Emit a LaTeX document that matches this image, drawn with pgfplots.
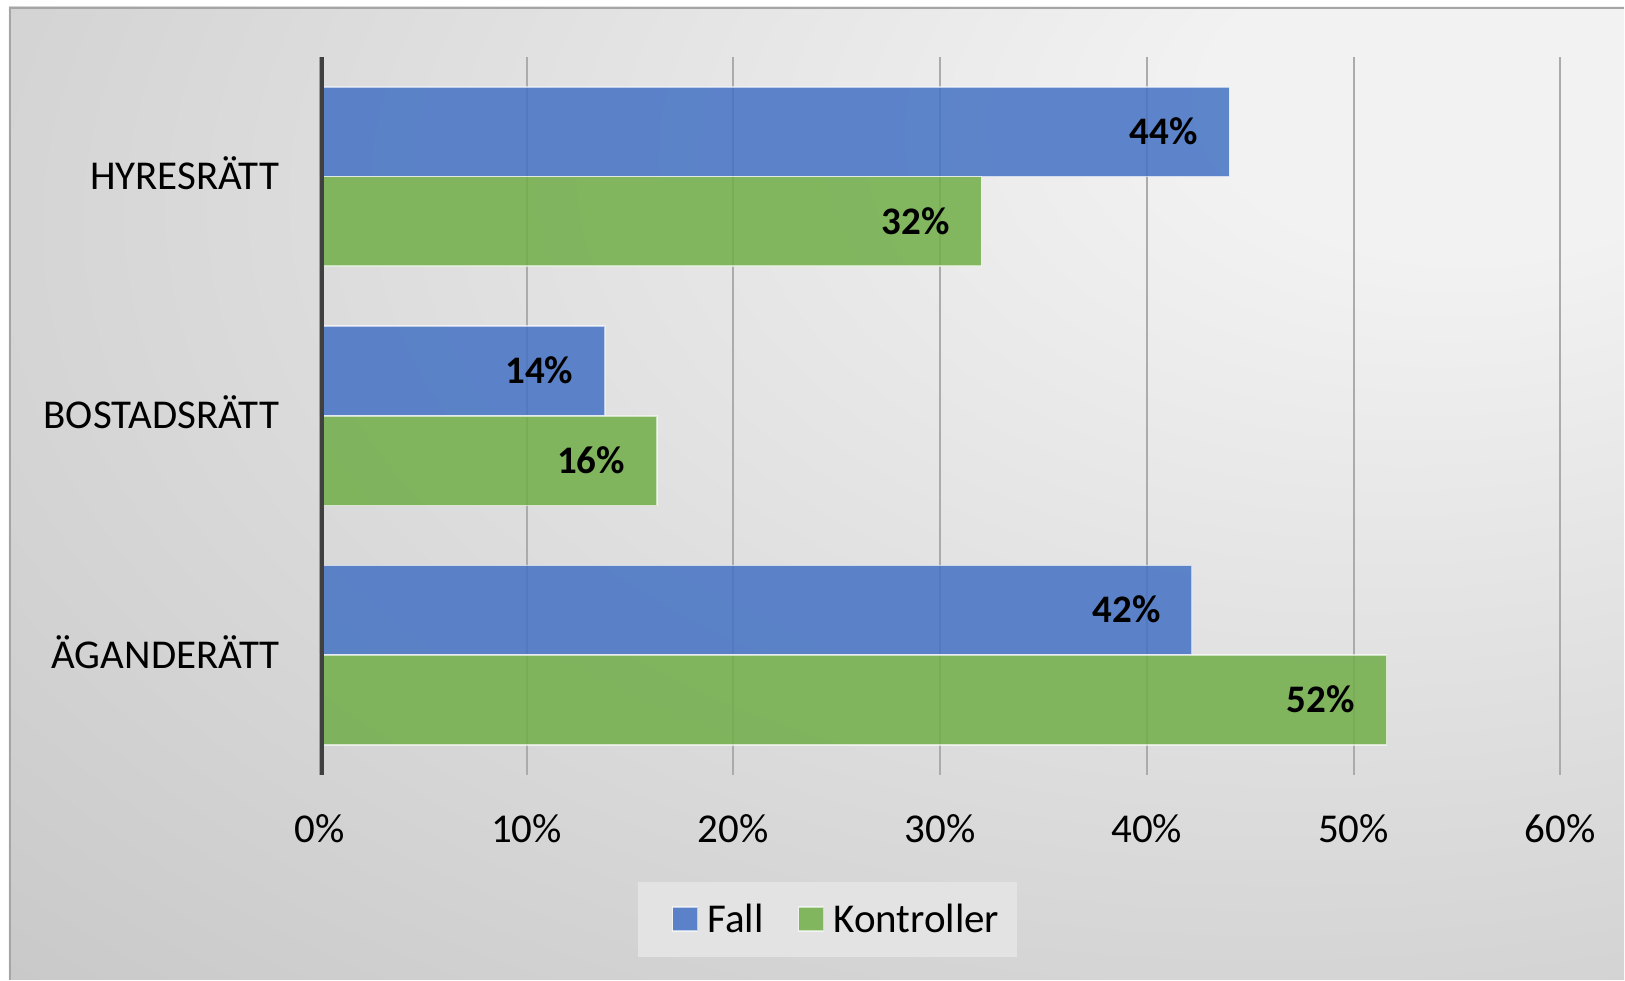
\documentclass[border=0pt]{standalone}
\usepackage{fontspec}
\setmainfont{Carlito}
\usepackage{pgfplots}
\pgfplotsset{compat=1.18}
\definecolor{fallc}{HTML}{4472C4}
\definecolor{kontc}{HTML}{70AD47}
\definecolor{bgin}{HTML}{F2F2F2}
\definecolor{bgout}{HTML}{C2C2C2}
\definecolor{gridc}{HTML}{ABABAB}
\definecolor{axc}{HTML}{404040}
\definecolor{legc}{HTML}{E3E3E3}
\pgfdeclareradialshading{bgshade}{\pgfpoint{22bp}{22bp}}{color(0bp)=(bgin); color(8bp)=(bgin); color(58bp)=(bgout); color(100bp)=(bgout)}
\begin{document}
\begin{tikzpicture}
\fill[white] (0,0) rectangle (812.5pt,490pt);
\shade[shading=bgshade] (4.5pt,0) rectangle (812.5pt,486.5pt);
\draw[color=bgout!85!black, line width=0.8pt] (4.9pt,0) -- (4.9pt,486.1pt) -- (812.5pt,486.1pt);
\begin{axis}[
  at={(160pt,102.5pt)}, anchor=south west,
  scale only axis, width=620.5pt, height=359pt,
  xbar, bar width=0.375,
  xmin=0, xmax=60, ymin=-0.5, ymax=2.5, y dir=reverse,
  ytick={0,1,2}, yticklabels={HYRESRÄTT,BOSTADSRÄTT,ÄGANDERÄTT},
  xtick={0,10,...,60}, xticklabel={\pgfmathprintnumber{\tick}\%},
  /pgf/number format/assume math mode=true,
  xmajorgrids, major grid style={color=gridc, line width=1pt},
  axis line style={draw=none}, major tick length=0pt,
  tick label style={font=\fontsize{20.5}{24}\selectfont, text=black},
  xticklabel style={anchor=center, yshift=-27pt, inner sep=0pt},
  yticklabel style={anchor=base east, xshift=-20pt, yshift=-6.6pt, inner sep=0pt},
  point meta=x,
  nodes near coords={\pgfmathprintnumber[fixed,precision=0]{\pgfplotspointmeta}\%},
  legend style={at={(axis description cs:0.4093,-0.2019)}, anchor=center, fill=legc, draw=none,
    font=\fontsize{20.5}{24}\selectfont, inner xsep=7pt, inner ysep=9pt,
    /tikz/every even column/.append style={column sep=5pt},
    /tikz/every odd column/.append style={column sep=2.6pt}},
  legend columns=2,
  legend image code/.code={\path (0pt,0pt); \draw[#1] (10pt,-5.8pt) rectangle (22.5pt,6.2pt);},
]
\addplot[fill=fallc, fill opacity=0.85, draw=white, draw opacity=0.6, line width=0.8pt, bar shift=-0.1875,
  every node near coord/.append style={font=\fontsize{19.5}{23}\selectfont\bfseries, anchor=base east, xshift=-15.5pt, yshift=-6.3pt, inner sep=0pt, text=black, text opacity=1}]
  coordinates {(44.0,0) (13.8,1) (42.2,2)};
\addplot[fill=kontc, fill opacity=0.85, draw=white, draw opacity=0.6, line width=0.8pt, bar shift=0.1875,
  every node near coord/.append style={font=\fontsize{19.5}{23}\selectfont\bfseries, anchor=base east, xshift=-15.5pt, yshift=-6.3pt, inner sep=0pt, text=black, text opacity=1}]
  coordinates {(32.0,0) (16.3,1) (51.6,2)};
\legend{Fall, Kontroller}
\draw[line width=4pt, color=axc] (axis cs:0,-0.5) -- (axis cs:0,2.5);
\end{axis}
\end{tikzpicture}
\end{document}
